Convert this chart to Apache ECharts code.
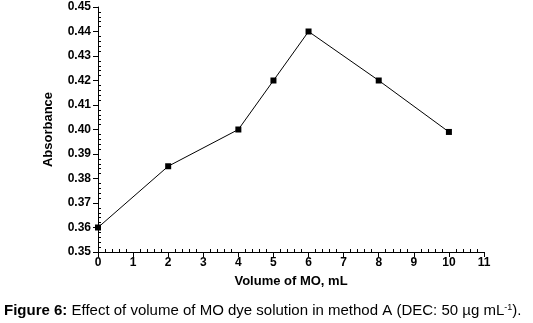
<!DOCTYPE html>
<html>
<head>
<meta charset="utf-8">
<script src="https://cdn.jsdelivr.net/npm/echarts@6/dist/echarts.min.js"></script>
<style>
  html, body { margin: 0; padding: 0; background: #fff; }
  #chart { width: 533px; height: 323px; }
</style>
</head>
<body>
<div id="chart"></div>
<script>
// volume of MO dye (mL) vs absorbance
var volumes = [0, 2, 4, 5, 6, 8, 10];
var absorbance = [0.360, 0.385, 0.400, 0.420, 0.440, 0.420, 0.399];

var chart = echarts.init(document.getElementById('chart'));
var font = 'Liberation Sans, Arial, sans-serif';
var narrow = 'Liberation Sans Narrow, Liberation Sans, Arial, sans-serif';

var options = {
    animation: false,
    grid: { left: 98, right: 49, top: 7, bottom: 71 },
    xAxis: {
        type: 'value',
        min: 0,
        max: 11,
        interval: 1,
        name: 'Volume of MO, mL',
        nameLocation: 'middle',
        nameGap: 23,
        nameTextStyle: { fontFamily: font, fontWeight: 'bold', fontSize: 13, color: '#000' },
        axisLine: { lineStyle: { color: '#000', width: 1 } },
        axisTick: { length: 5, lineStyle: { color: '#000' } },
        minorTick: { show: true, splitNumber: 5, length: -3, lineStyle: { color: '#000' } },
        splitLine: { show: false },
        axisLabel: { fontFamily: font, fontWeight: 'bold', fontSize: 12, color: '#000', margin: 5 }
    },
    yAxis: {
        type: 'value',
        min: 0.35,
        max: 0.45,
        interval: 0.01,
        name: 'Absorbance',
        nameLocation: 'middle',
        nameGap: 43,
        nameTextStyle: { fontFamily: narrow, fontWeight: 'bold', fontSize: 13, color: '#000' },
        axisLine: { show: true, lineStyle: { color: '#000', width: 1 } },
        axisTick: { show: true, length: 5, lineStyle: { color: '#000' } },
        minorTick: { show: true, splitNumber: 5, length: -3, lineStyle: { color: '#000' } },
        splitLine: { show: false },
        axisLabel: {
            fontFamily: font, fontWeight: 'bold', fontSize: 12, color: '#000', margin: 7,
            formatter: function (v) { return v.toFixed(2); }
        }
    },
    series: [{
        type: 'line',
        data: volumes.map(function (v, i) { return [v, absorbance[i]]; }),
        symbol: 'rect',
        symbolSize: 6,
        lineStyle: { color: '#000', width: 1 },
        itemStyle: { color: '#000' }
    }],
    graphic: [{
        type: 'text',
        left: 4,
        top: 303,
        style: {
            text: '{b|Figure 6:} Effect of volume of MO dye solution in method A (DEC: 50 µg mL{s|-1}).',
            font: '15px ' + font,
            fill: '#000',
            rich: {
                b: { fontFamily: font, fontWeight: 'bold', fontSize: 15, fill: '#000' },
                s: { fontFamily: font, fontSize: 9, fill: '#000', verticalAlign: 'top', padding: [0, 0, 7, 0] }
            }
        }
    }]
};
chart.setOption(options);
</script>
</body>
</html>
